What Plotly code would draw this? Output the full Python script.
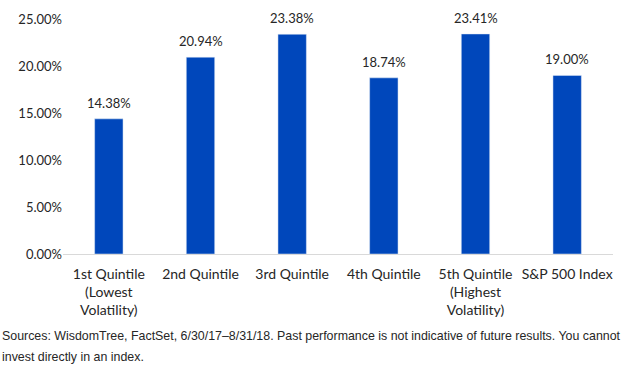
import plotly.graph_objects as go

categories = ["1st Quintile<br>(Lowest<br>Volatility)", "2nd Quintile", "3rd Quintile",
              "4th Quintile", "5th Quintile<br>(Highest<br>Volatility)", "S&P 500 Index"]
values = [14.38, 20.94, 23.38, 18.74, 23.41, 19.00]
tick_vals = [0, 5, 10, 15, 20, 25]
tick_text = ["0.00%", "5.00%", "10.00%", "15.00%", "20.00%", "25.00%"]
footnote_lines = [
    "Sources: WisdomTree, FactSet, 6/30/17\u20138/31/18. Past performance is not indicative of future results. You cannot",
    "invest directly in an index.",
]

FONT = "Lato, Open Sans, sans-serif"
L, R, T, B = 63, 11, 15, 114
W, H = 624, 368
PH = H - T - B
PW = W - L - R

fig = go.Figure(go.Bar(
    x=categories, y=values,
    marker_color="#0047BB",
    cliponaxis=False,
))

annotations = []
for c, v in zip(categories, values):
    annotations.append(dict(
        x=c, y=v, xref="x", yref="y", text=f"{v:.2f}%", showarrow=False,
        xanchor="center", yanchor="bottom", yshift=6,
        font=dict(family=FONT, size=13, color="#262626"),
    ))
for i, (line, py) in enumerate(zip(footnote_lines, [337, 359])):
    annotations.append(dict(
        text=line, xref="paper", yref="paper",
        x=(1 - L) / PW, y=(H - B - py) / PH, xanchor="left", yanchor="middle",
        align="left", showarrow=False, borderpad=0,
        font=dict(family="Liberation Sans, Arial, sans-serif", size=12.4, color="#262626"),
    ))

fig.update_layout(
    width=W, height=H,
    margin=dict(l=L, r=R, t=T, b=B),
    plot_bgcolor="white", paper_bgcolor="white",
    bargap=0.69,
    showlegend=False,
    font=dict(family=FONT, size=13, color="#262626"),
    xaxis=dict(showline=True, linecolor="#d9d9d9", linewidth=1, ticks="",
               tickfont=dict(size=14), showgrid=False, ticklabelstandoff=7),
    yaxis=dict(range=[0, 25], tickvals=tick_vals, ticktext=tick_text,
               showgrid=False, zeroline=False, showline=False, ticks="",
               tickfont=dict(size=13)),
    annotations=annotations,
)

fig.write_html("out.html")
